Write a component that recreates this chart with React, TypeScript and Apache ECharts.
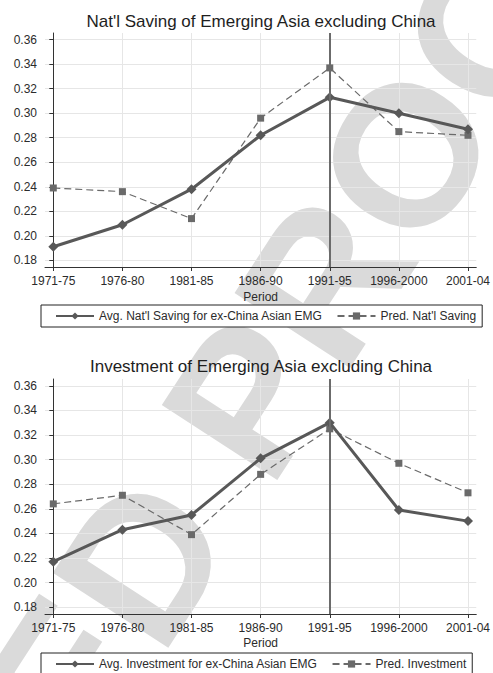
import React, { useEffect, useRef } from "react";
import * as echarts from "echarts";

// Five-year periods on the horizontal axis
const periods = ["1971-75", "1976-80", "1981-85", "1986-90", "1991-95", "1996-2000", "2001-04"];

// National saving, share of GDP
const savingAvg = [0.191, 0.209, 0.238, 0.282, 0.313, 0.300, 0.287];
const savingPred = [0.239, 0.236, 0.214, 0.296, 0.337, 0.285, 0.282];

// Investment, share of GDP
const investAvg = [0.217, 0.243, 0.255, 0.301, 0.330, 0.259, 0.250];
const investPred = [0.264, 0.271, 0.239, 0.288, 0.325, 0.297, 0.273];

// Y tick labels
const yTicks = [0.18, 0.2, 0.22, 0.24, 0.26, 0.28, 0.3, 0.32, 0.34, 0.36];

// Period marked by the vertical reference line
const breakPeriod = "1991-95";

const titles = [
  "Nat'l Saving of Emerging Asia excluding China",
  "Investment of Emerging Asia excluding China",
];
const legendNames = [
  ["Avg. Nat'l Saving for ex-China Asian EMG", "Pred. Nat'l Saving"],
  ["Avg. Investment for ex-China Asian EMG", "Pred. Investment"],
];

// Proof stamp running diagonally across the page
const stampText = "ED PROOF";

const FONT = "'Liberation Sans', Arial, sans-serif";
const INK = "#2b2b2b";
const AVG_COLOR = "#585858";
const PRED_COLOR = "#6a6a6a";

const toPairs = (vals: number[]) => vals.map((v, i) => [i, v]);

export default function App() {
  const ref = useRef<HTMLDivElement>(null);

  useEffect(() => {
    if (!ref.current) return;
    const chart = echarts.init(ref.current, undefined, { renderer: "svg" });

    const grids = [
      { left: 45, top: 33, width: 432, height: 234 },
      { left: 45, top: 379, width: 432, height: 235 },
    ];
    const nameGaps = [24, 23];

    const xAxis = grids.map((_, gi) => ({
      type: "value",
      gridIndex: gi,
      min: -0.12,
      max: periods.length - 1 + 0.12,
      name: "Period",
      nameLocation: "middle",
      nameGap: nameGaps[gi],
      nameTextStyle: { fontFamily: FONT, fontSize: 12, color: INK },
      axisLine: { show: true, onZero: false, lineStyle: { color: "#333", width: 1 } },
      axisTick: {
        show: true,
        length: 4,
        customValues: periods.map((_, i) => i),
        lineStyle: { color: "#333" },
      },
      axisLabel: {
        customValues: periods.map((_, i) => i),
        formatter: (v: number) => periods[Math.round(v)] ?? "",
        fontFamily: FONT,
        fontSize: 12,
        color: INK,
        margin: 8,
      },
      splitLine: { show: true, lineStyle: { color: "#e6e6e6", width: 1 } },
    }));

    const yAxis = grids.map((_, gi) => ({
      type: "value",
      gridIndex: gi,
      min: 0.1745,
      max: 0.3655,
      axisLine: { show: true, lineStyle: { color: "#333", width: 1 } },
      axisTick: {
        show: true,
        length: 4,
        customValues: yTicks,
        lineStyle: { color: "#333" },
      },
      axisLabel: {
        customValues: yTicks,
        formatter: (v: number) => v.toFixed(2),
        fontFamily: FONT,
        fontSize: 12,
        color: INK,
        margin: 8,
      },
      splitLine: { show: true, lineStyle: { color: "#e6e6e6", width: 1 } },
    }));

    const panels = [
      { avg: savingAvg, pred: savingPred },
      { avg: investAvg, pred: investPred },
    ];

    const series: any[] = [];
    panels.forEach((p, gi) => {
      series.push({
        type: "line",
        name: legendNames[gi][0],
        xAxisIndex: gi,
        yAxisIndex: gi,
        data: toPairs(p.avg),
        symbol: "diamond",
        symbolSize: 10,
        itemStyle: { color: AVG_COLOR },
        lineStyle: { color: AVG_COLOR, width: 3 },
        z: 4,
        markLine: {
          silent: true,
          symbol: "none",
          label: { show: false },
          lineStyle: { type: "solid", color: "#6b6b6b", width: 2 },
          data: [{ xAxis: periods.indexOf(breakPeriod) }],
        },
      });
      series.push({
        type: "line",
        name: legendNames[gi][1],
        xAxisIndex: gi,
        yAxisIndex: gi,
        data: toPairs(p.pred),
        symbol: "rect",
        symbolSize: 7,
        itemStyle: { color: PRED_COLOR },
        lineStyle: { color: PRED_COLOR, width: 1.2, type: [7, 4] },
        z: 3,
      });
    });

    const legendTops = [305, 653];
    const legend = legendTops.map((top, gi) => ({
      show: true,
      data: legendNames[gi],
      left: 41,
      top,
      orient: "horizontal",
      itemWidth: 38,
      itemHeight: 9,
      itemGap: 14,
      padding: [5, 6, 5, 14],
      borderColor: "#222",
      borderWidth: 1,
      borderRadius: 0,
      backgroundColor: "#fff",
      textStyle: { fontFamily: FONT, fontSize: 12, color: INK },
      selectedMode: false,
    }));

    const titleY = [21, 366];
    const graphic: any[] = [
      {
        type: "text",
        x: 30,
        y: 733,
        rotation: (57 * Math.PI) / 180,
        silent: true,
        z: -10,
        zlevel: 0,
        style: {
          text: stampText,
          fontFamily: FONT,
          fontWeight: "bold",
          fontSize: 200,
          fill: "#dadada",
          align: "left",
          verticalAlign: "middle",
          textAlign: "left",
          textVerticalAlign: "middle",
        },
      },
      ...titles.map((t, gi) => ({
        type: "text",
        x: 261,
        y: titleY[gi],
        silent: true,
        style: {
          text: t,
          fontFamily: FONT,
          fontSize: 17,
          fill: "#1e1e1e",
          align: "center",
          verticalAlign: "middle",
          textAlign: "center",
          textVerticalAlign: "middle",
        },
      })),
    ];

    chart.setOption({
      animation: false,
      backgroundColor: "#fff",
      grid: grids,
      xAxis,
      yAxis,
      series,
      legend,
      graphic,
    } as any);

    return () => chart.dispose();
  }, []);

  return <div ref={ref} style={{ width: 493, height: 673, position: "absolute", left: 0, top: 0 }} />;
}
